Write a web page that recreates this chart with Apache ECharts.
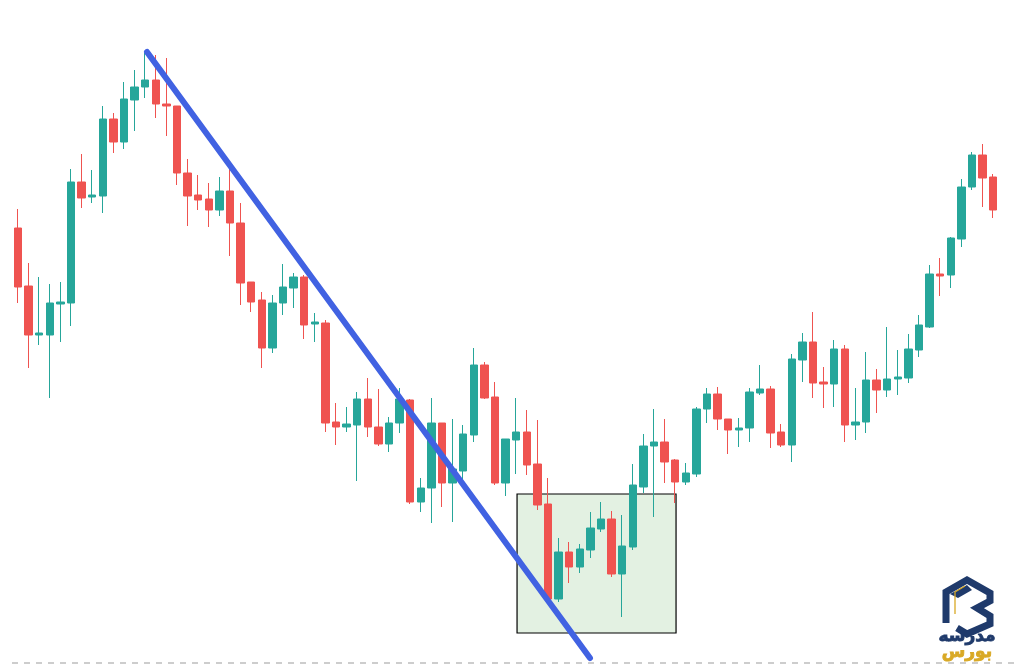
<!DOCTYPE html>
<html>
<head>
<meta charset="utf-8">
<script src="https://cdn.jsdelivr.net/npm/echarts@6/dist/echarts.min.js"></script>
<style>
html,body{margin:0;padding:0;background:#fff;}
#chart{width:1019px;height:665px;}
</style>
</head>
<body>
<div id="chart"></div>
<script>
// Candle values (arbitrary price units)
const opens  = [437,379,330,330,361,362,483,468,469,546,523,565,578,585,561,559,492,470,466,455,474,442,383,365,317,362,377,388,341,342,243,238,240,266,238,221,242,265,163,177,242,182,194,230,300,268,182,225,233,201,161,66,113,98,115,136,146,91,118,178,219,223,205,183,191,256,271,246,235,237,272,276,233,220,305,323,283,281,316,240,243,285,275,286,287,315,338,391,390,426,478,510,488];
const closes = [378,330,332,362,363,483,467,470,546,523,566,578,585,561,559,492,469,465,455,474,442,382,363,317,362,378,388,340,343,242,238,241,266,238,221,242,266,163,177,242,182,196,231,300,267,182,226,233,200,160,66,113,98,116,137,146,91,119,180,219,223,203,183,192,256,271,246,235,237,273,276,232,220,306,323,282,281,316,240,243,285,275,286,288,316,340,391,389,427,478,510,487,455];
const lows   = [362,297,320,267,323,339,457,462,452,512,516,534,567,547,529,480,439,455,438,449,409,360,353,297,312,350,357,326,323,233,220,233,184,228,219,213,232,161,153,142,158,143,185,223,266,180,169,191,190,155,65,63,82,92,107,133,88,48,115,172,148,182,162,180,188,242,235,211,218,223,270,217,218,203,283,267,257,258,223,225,232,252,268,270,282,308,337,369,377,418,475,458,447];
const highs  = [456,402,388,381,383,496,511,495,559,552,583,595,612,610,607,559,506,490,482,488,502,462,383,373,370,401,392,390,352,345,262,258,273,287,276,248,277,266,187,267,242,246,240,317,303,283,226,267,255,245,187,127,123,121,153,163,154,150,201,231,256,246,206,202,258,277,278,246,247,277,300,279,241,311,332,353,298,325,320,277,313,296,338,315,331,350,400,407,428,486,513,521,491];
const categories = opens.map((_, i) => String(i + 1));

// Annotations (index / price units)
const trendLine = [[12.17, 613], [53.96, 7]];
const zoneBox = [[47.08, 171], [62.08, 32]];

const candleData = opens.map((o, i) => [o, closes[i], lows[i], highs[i]]);

const chart = echarts.init(document.getElementById('chart'), null, {renderer: 'canvas'});
chart.setOption({
  animation: false,
  backgroundColor: '#ffffff',
  grid: {left: 12.7, right: 20.5, top: 0, bottom: 2, containLabel: false},
  xAxis: [
    {type: 'category', data: categories, boundaryGap: true, show: false},
    {type: 'value', min: -0.5, max: 92.5, show: false}
  ],
  yAxis: [{type: 'value', min: 2, max: 665, show: false}],
  series: [
    {
      type: 'line', xAxisIndex: 1, data: [], z: 1, silent: true,
      markArea: {
        silent: true,
        itemStyle: {color: '#e3f1e2', borderColor: '#000000', borderWidth: 1.2, opacity: 1},
        data: [[{coord: zoneBox[0]}, {coord: zoneBox[1]}]]
      }
    },
    {
      type: 'candlestick', xAxisIndex: 0, data: candleData, z: 2,
      barWidth: 8,
      itemStyle: {
        color: '#26a69a', color0: '#ef5350',
        borderColor: '#26a69a', borderColor0: '#ef5350', borderWidth: 1
      }
    },
    {
      type: 'line', xAxisIndex: 1, data: trendLine, z: 3, symbol: 'none',
      lineStyle: {color: '#4162e2', width: 6, cap: 'round'}
    }
  ],
  graphic: [
    {type: 'line', shape: {x1: 12, y1: 663, x2: 1019, y2: 663},
     style: {stroke: '#bdbdbd', lineWidth: 1.5, lineDash: [6, 6]}},
    {type: 'polyline', shape: {points: [[946,623],[946,592],[967,580],[990,593],[990,601],[977,608],[990,616],[990,624],[967,634],[957,628]]},
     style: {stroke: '#1f3a6b', lineWidth: 7, fill: null, lineJoin: 'miter'}},
    {type: 'polygon', shape: {points: [[950,594],[967,585],[972,590],[958,598]]},
     style: {fill: '#1f3a6b'}},
    {type: 'polyline', shape: {points: [[955,614],[955,592],[965,586]]},
     style: {stroke: '#d9a925', lineWidth: 1.3, fill: null}},
    {type: 'text', x: 967, y: 637, style: {text: 'مدرسه', fill: '#1f3a6b', stroke: '#1f3a6b', lineWidth: 0.9, font: 'bold 17px "DejaVu Sans"', align: 'center', verticalAlign: 'middle'}},
    {type: 'text', x: 967, y: 653, style: {text: 'بورس', fill: '#d9a925', stroke: '#d9a925', lineWidth: 0.9, font: 'bold 17px "DejaVu Sans"', align: 'center', verticalAlign: 'middle'}}
  ]
});
</script>
</body>
</html>
